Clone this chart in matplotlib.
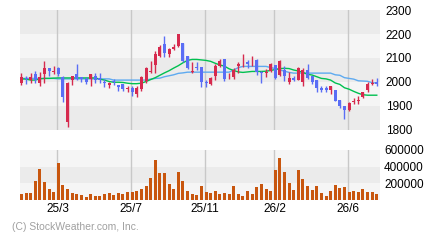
import matplotlib
matplotlib.use('Agg')
import matplotlib.pyplot as plt
import numpy as np

plt.rcParams['font.family'] = ['Liberation Sans', 'DejaVu Sans']

# ---- data (weekly candles) ----
opens = [1997, 2018, 2008, 2033, 1997, 2033, 2058, 2043, 2058, 2021,
         1835, 2008, 2033, 2021, 2013, 2013, 2025, 2017, 2001, 1989,
         2004, 1988, 1990, 1972, 1976, 1951, 1972, 2006, 2041, 2071,
         2108, 2158, 2117, 2138, 2150, 2163, 2108, 2041, 2062, 2064,
         2000, 1992, 2025, 2067, 2096, 2015, 2021, 2067, 2086, 2083,
         2086, 2090, 2042, 2038, 2046, 2071, 2029, 2050, 2000, 2017,
         2008, 2000, 2050, 2025, 2008, 1975, 1975, 1967, 1967, 1925,
         1900, 1883, 1917, 1921, 1937, 1967, 1992, 2000]
closes = [2021, 2011, 2021, 2008, 2021, 2058, 2045, 2045, 2033, 1939,
          1997, 2025, 2013, 2013, 2000, 2033, 2008, 2008, 1994, 1994,
          2000, 1981, 1971, 1975, 1960, 1975, 2021, 2058, 2045, 2117,
          2146, 2119, 2138, 2146, 2200, 2088, 2058, 2045, 2058, 2000,
          1994, 2017, 2067, 2086, 2013, 2017, 2050, 2075, 2088, 2075,
          2088, 2042, 2038, 2042, 2075, 2017, 2088, 2025, 2017, 2008,
          2058, 2050, 2017, 2000, 1975, 1967, 1967, 1983, 1921, 1900,
          1883, 1913, 1921, 1925, 1958, 1992, 1996, 1992]
highs = [2038, 2025, 2038, 2045, 2042, 2088, 2058, 2067, 2063, 2025,
         2001, 2025, 2075, 2021, 2021, 2033, 2038, 2038, 2013, 2001,
         2011, 1988, 1990, 1985, 1985, 1982, 2025, 2063, 2088, 2129,
         2153, 2192, 2142, 2158, 2200, 2163, 2108, 2083, 2083, 2064,
         2008, 2019, 2075, 2094, 2096, 2039, 2058, 2083, 2117, 2092,
         2108, 2096, 2047, 2056, 2081, 2071, 2092, 2067, 2042, 2025,
         2061, 2058, 2075, 2025, 2008, 1983, 1983, 1983, 1967, 1925,
         1900, 1917, 1933, 1942, 1958, 2000, 2013, 2017]
lows = [1989, 1992, 1997, 1995, 1985, 1997, 2025, 2033, 2025, 1915,
        1814, 1989, 2008, 2000, 1992, 1985, 1997, 1995, 1981, 1974,
        1988, 1964, 1964, 1960, 1940, 1936, 1964, 1997, 2039, 2039,
        2104, 2104, 2104, 2133, 2144, 2082, 2056, 2039, 2051, 1981,
        1981, 1988, 2008, 2064, 2006, 2013, 2013, 2039, 2064, 2058,
        2067, 2031, 1997, 2021, 2042, 2013, 2025, 2006, 1992, 2004,
        2008, 1983, 2013, 1992, 1958, 1958, 1958, 1950, 1921, 1892,
        1846, 1879, 1908, 1908, 1933, 1958, 1988, 1983]
volume = [76000, 88000, 88000, 232000, 376000, 220000, 136000, 100000, 448000, 184000,
          136000, 88000, 76000, 64000, 40000, 76000, 52000, 52000, 76000, 88000,
          64000, 88000, 76000, 100000, 100000, 112000, 136000, 172000, 268000, 484000,
          328000, 328000, 196000, 136000, 340000, 232000, 112000, 76000, 64000, 172000,
          100000, 88000, 112000, 76000, 88000, 76000, 172000, 76000, 52000, 112000,
          76000, 160000, 196000, 136000, 112000, 364000, 508000, 340000, 208000, 124000,
          364000, 256000, 172000, 124000, 172000, 88000, 52000, 112000, 184000, 148000,
          160000, 100000, 112000, 100000, 136000, 100000, 100000, 76000]
ma_short = [2013, 2012, 2008, 2008, 2013, 2015, 2015, 2016, 2017, 2017,
            2017, 2017, 2017, 2017, 2017, 2017, 2017, 2012, 2008, 2002,
            1999, 1999, 1998, 1995, 1993, 1993, 1995, 2002, 2010, 2018,
            2028, 2038, 2047, 2058, 2068, 2080, 2090, 2094, 2094, 2092,
            2090, 2086, 2078, 2071, 2066, 2055, 2048, 2042, 2040, 2042,
            2044, 2044, 2044, 2045, 2048, 2052, 2056, 2057, 2056, 2050,
            2046, 2040, 2032, 2029, 2022, 2015, 2013, 2008, 1996, 1990,
            1976, 1970, 1961, 1953, 1947, 1945, 1945, 1945]
ma_long = [2015, 2015, 2015, 2015, 2015, 2015, 2015, 2015, 2013, 2013,
           2013, 2013, 2013, 2013, 2013, 2013, 2013, 2013, 2013, 2013,
           2008, 2008, 2008, 2008, 2008, 2008, 2008, 2008, 2012, 2015,
           2016, 2022, 2026, 2030, 2036, 2038, 2041, 2041, 2041, 2041,
           2041, 2041, 2041, 2041, 2041, 2041, 2050, 2060, 2065, 2065,
           2065, 2065, 2065, 2065, 2060, 2056, 2050, 2045, 2040, 2037,
           2037, 2037, 2037, 2037, 2037, 2037, 2037, 2037, 2030, 2028,
           2018, 2015, 2012, 2005, 2004, 2003, 1997, 1996]
tick_idx = [8, 24, 40, 55, 71]
tick_labels = ['25/3', '25/7', '25/11', '26/2', '26/6']
price_ticks = [1800, 1900, 2000, 2100, 2200, 2300]
vol_ticks = [200000, 400000, 600000]

# ---- styling ----
RED = '#d62a4e'
BLUE = '#5a6ef5'
GREEN = '#00c050'
LBLUE = '#5eaaf0'
VOLC = '#c8560e'
DARK = '#ebebeb'
LIGHT = '#f5f5f5'
GRID = '#c8c8c8'

W, H = 440, 240
fig = plt.figure(figsize=(W / 100, H / 100), dpi=100)
axp = fig.add_axes([20 / W, 1 - 130 / H, 360 / W, 120 / H])
axv = fig.add_axes([20 / W, 1 - 200 / H, 360 / W, 50 / H])

o = np.array(opens, float)
c = np.array(closes, float)
hi = np.array(highs, float)
lo = np.array(lows, float)
x = np.arange(len(o))
gx = np.array(tick_idx) - 0.18

for ax in (axp, axv):
    ax.set_xlim(-0.3, 77.7)
    for s in ax.spines.values():
        s.set_visible(False)
    for g in gx:
        ax.axvline(g, color=GRID, lw=1.0, zorder=1)

# price panel bands
band_cols = [DARK, LIGHT, DARK, LIGHT, DARK]
for i, col in enumerate(band_cols):
    axp.axhspan(price_ticks[i], price_ticks[i + 1], color=col, lw=0, zorder=0)
axp.set_ylim(price_ticks[0], price_ticks[-1])

axp.plot(x, ma_long, color=LBLUE, lw=1.0, zorder=2)
axp.plot(x, ma_short, color=GREEN, lw=1.0, zorder=2)

cols = [RED if cc >= oo else BLUE for oo, cc in zip(o, c)]
axp.vlines(x, lo, hi, colors=cols, lw=1.0, zorder=3)
axp.bar(x, np.maximum(np.abs(c - o), 2.5), bottom=np.minimum(o, c), width=0.65,
        color=cols, lw=0, zorder=4)

axp.set_yticks(price_ticks)
axp.set_yticklabels([str(t) for t in price_ticks])
axp.yaxis.tick_right()
axp.tick_params(axis='y', length=0, pad=4, labelsize=8.5)
axp.set_xticks([])

# volume panel
vb = [0, 200000, 400000, 600000]
for i, col in enumerate([LIGHT, DARK, LIGHT]):
    axv.axhspan(vb[i], vb[i + 1], color=col, lw=0, zorder=0)
axv.bar(x, volume, width=0.65, color=VOLC, lw=0, zorder=3)
axv.set_ylim(0, 600000)
axv.set_yticks(vol_ticks)
axv.set_yticklabels([str(t) for t in vol_ticks])
axv.yaxis.tick_right()
axv.tick_params(axis='y', length=0, pad=3, labelsize=8.5)
axv.set_xticks(gx)
axv.set_xticklabels(tick_labels)
axv.tick_params(axis='x', length=0, pad=2, labelsize=8.5)

fig.text(12 / W, 1 - 227 / H, '(C) StockWeather.com, Inc.', fontsize=7.5,
         color='#a0a0a0', ha='left', va='center')

fig.savefig('out.png', dpi=100)
